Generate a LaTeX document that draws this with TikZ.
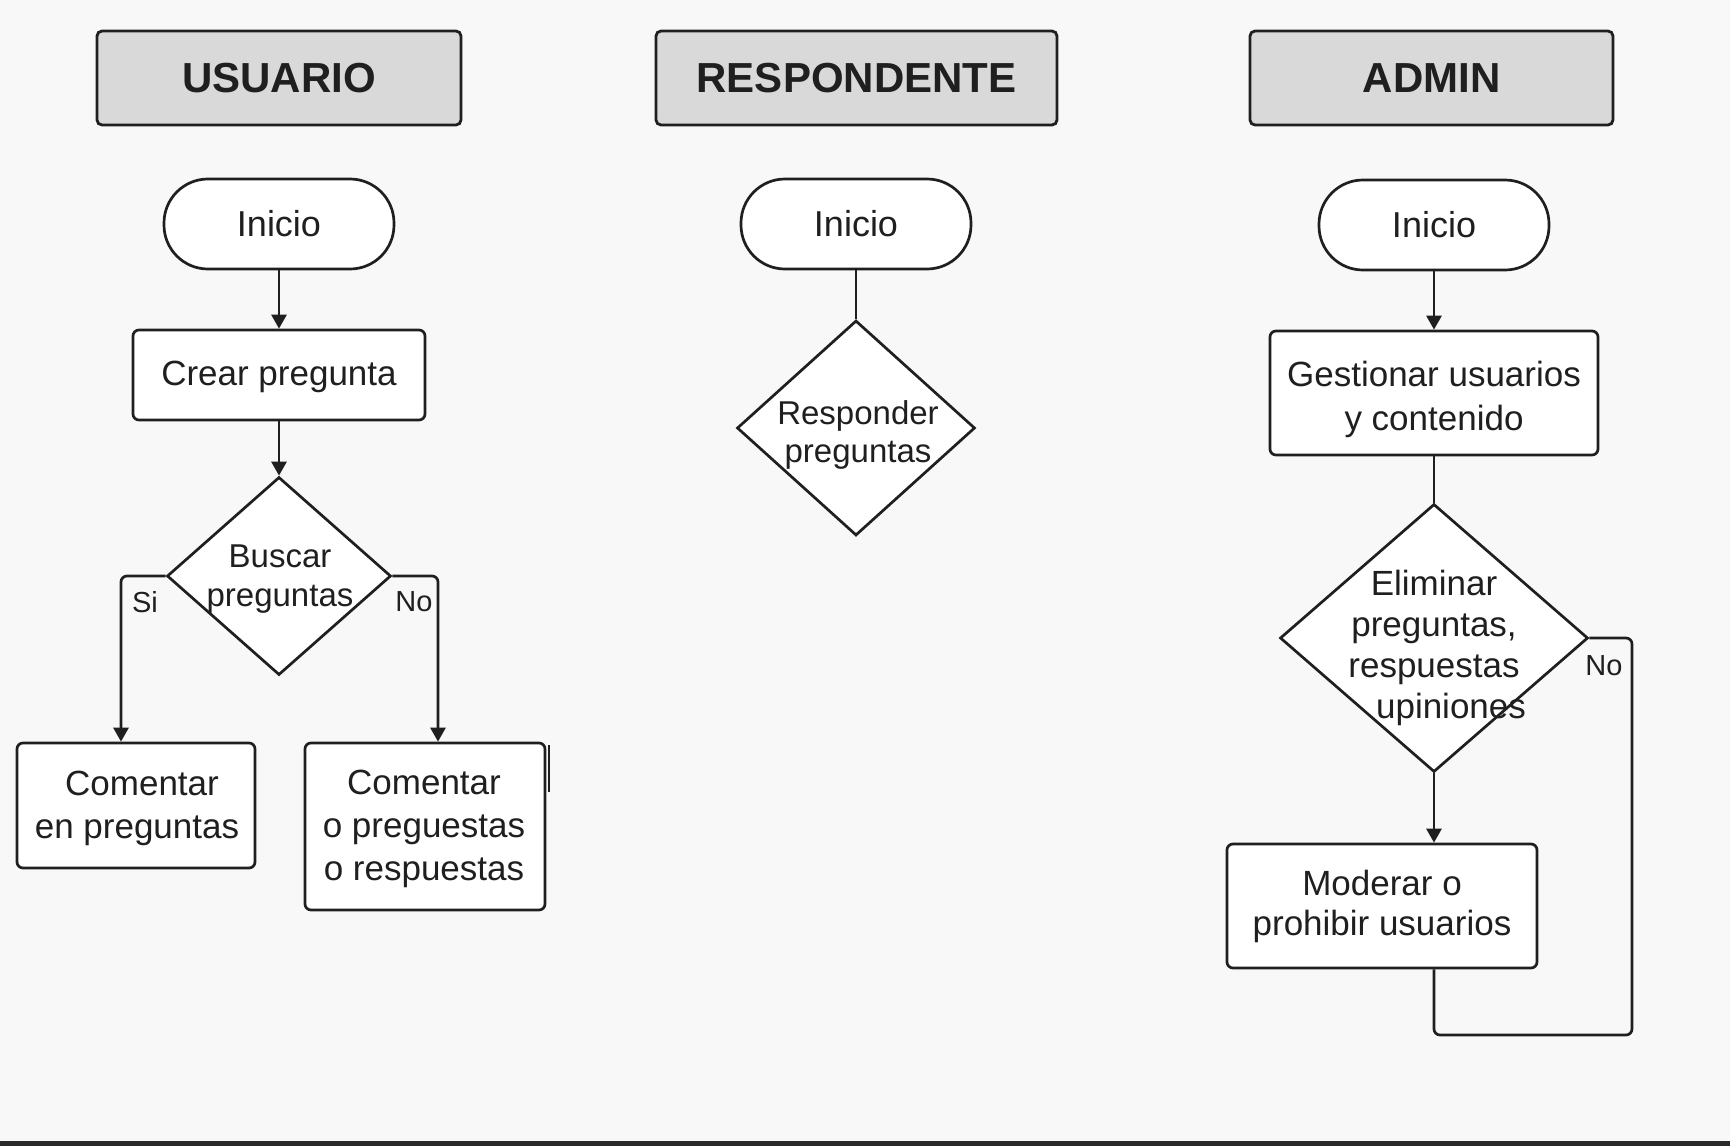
\documentclass[tikz,border=0pt]{standalone}
\usepackage{fontspec}
\setmainfont{Liberation Sans}
\usetikzlibrary{shapes.geometric,arrows.meta,calc}
\definecolor{bg}{HTML}{F8F8F8}
\definecolor{hdr}{HTML}{D9D9D9}
\definecolor{ink}{HTML}{1F1F1F}
\definecolor{bar}{HTML}{2A2A2A}
\begin{document}
\begin{tikzpicture}[x=1pt,y=-1pt,
  every node/.style={text=ink},
  hdrbox/.style={draw=ink, line width=2.8pt, fill=hdr, rounded corners=5pt, minimum height=94pt, inner sep=0pt, font=\fontsize{42}{48}\selectfont\bfseries},
  term/.style={draw=ink, line width=2.7pt, fill=white, rounded corners=44pt, minimum width=230pt, minimum height=90pt, inner sep=0pt, font=\fontsize{36}{42}\selectfont},
  procbox/.style={draw=ink, line width=2.7pt, fill=white, rounded corners=6pt, inner sep=0pt, align=center, font=\fontsize{35}{43}\selectfont},
  decis/.style={draw=ink, line width=2.7pt, fill=white, diamond, inner sep=0pt},
  dtext/.style={align=center, inner sep=0pt},
  conn/.style={draw=ink, line width=2.7pt},
  arr/.style={conn, -{Triangle[length=14pt,width=15pt]}},
  lbl/.style={font=\fontsize{29}{34}\selectfont, inner sep=0pt}
]
\useasboundingbox (0,0) rectangle (1730,1146);
\fill[bg] (0,0) rectangle (1730,1146);
\fill[bar] (0,1141) rectangle (1730,1146);

% headers
\node[hdrbox, minimum width=364pt] (h1) at (279,78) {USUARIO};
\node[hdrbox, minimum width=401pt] (h2) at (856.5,78) {RESPONDENTE};
\node[hdrbox, minimum width=363pt] (h3) at (1431.5,78) {ADMIN};

% USUARIO
\node[term] (i1) at (279,224) {Inicio};
\node[procbox, minimum width=292pt, minimum height=90pt] (crear) at (279,375) {};
\node[dtext, font=\fontsize{35}{43}\selectfont] (crearT) at (279,377) {Crear pregunta};
\node[decis, minimum width=224pt, minimum height=198pt] (busc) at (279,576) {};
\node[dtext, font=\fontsize{33}{39}\selectfont] (buscT) at (280,579) {Buscar\\preguntas};
\node[procbox, minimum width=238pt, minimum height=125pt] (com1) at (136,805.5) {};
\node[dtext, font=\fontsize{35}{43}\selectfont] (com1T) at (137,808) {\hspace*{10pt}Comentar\\en preguntas};
\node[procbox, minimum width=240pt, minimum height=167pt] (com2) at (425,826.5) {};
\node[dtext, font=\fontsize{35}{43}\selectfont] (com2T) at (424,829) {Comentar\\o preguestas\\o respuestas};
\node[lbl] (si) at (145,602) {Si};
\node[lbl] (no1) at (414,602) {No};
\coordinate (mk1) at (549,745);
\coordinate (mk2) at (549,792);

\draw[arr] (i1) -- (crear);
\draw[arr] (crear) -- (busc);
\draw[arr, rounded corners=6pt] (busc.west) -| ([xshift=-15pt]com1.north);
\draw[arr, rounded corners=6pt] (busc.east) -| ([xshift=13pt]com2.north);
\draw[conn] (mk1) -- (mk2);

% RESPONDENTE
\node[term] (i2) at (856,224) {Inicio};
\node[decis, minimum width=238pt, minimum height=215pt] (resp) at (856,428) {};
\node[dtext, font=\fontsize{33}{38}\selectfont] (respT) at (858,435) {Responder\\preguntas};
\draw[conn] (i2) -- (resp);

% ADMIN
\node[term] (i3) at (1434,225) {Inicio};
\node[procbox, minimum width=328pt, minimum height=124pt] (gest) at (1434,393) {};
\node[dtext, font=\fontsize{35}{44}\selectfont] (gestT) at (1434,399) {Gestionar usuarios\\y contenido};
\node[decis, minimum width=308pt, minimum height=268pt] (elim) at (1434,638) {};
\node[dtext, font=\fontsize{35}{41}\selectfont] (elimT) at (1434,648) {Eliminar\\preguntas,\\respuestas\\\hspace*{34pt}upiniones};
\node[procbox, minimum width=310pt, minimum height=124pt, font=\fontsize{35}{40}\selectfont] (mod) at (1382,906) {Moderar o\\prohibir usuarios};
\node[lbl] (no2) at (1604,666) {No};
\coordinate (lp) at (1632,1035);

\draw[arr] (i3) -- (gest);
\draw[conn] (gest.south) -- (elim.north);
\draw[arr] (elim.south) -- (elim.south |- mod.north);
\draw[conn, rounded corners=6pt] (elim.east) -| (lp) -| (elim.south |- mod.south);
\end{tikzpicture}
\end{document}
